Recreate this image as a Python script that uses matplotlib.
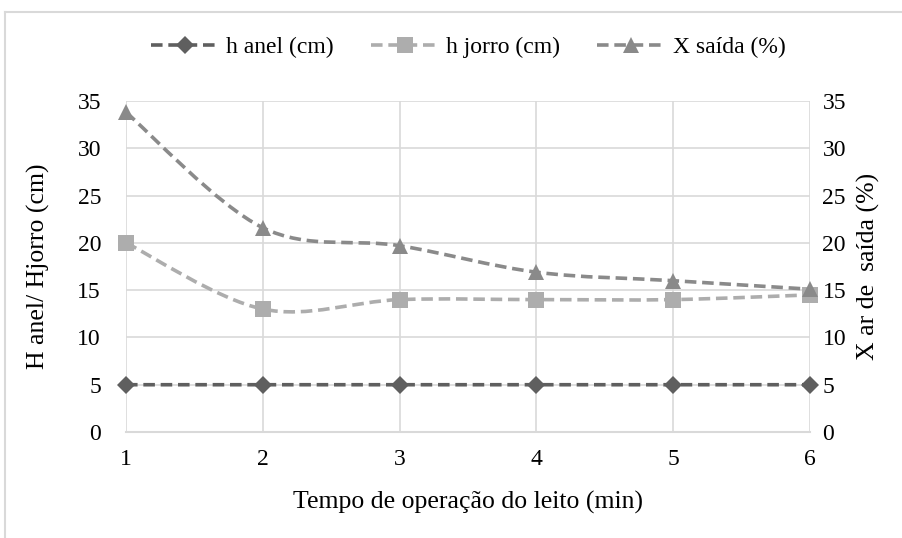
import matplotlib.pyplot as plt
from matplotlib.path import Path
from matplotlib.patches import PathPatch
from matplotlib.lines import Line2D
import numpy as np

plt.rcParams['font.family'] = ['Liberation Serif', 'DejaVu Serif']

tempo = [1, 2, 3, 4, 5, 6]
h_anel = [5, 5, 5, 5, 5, 5]
h_jorro = [20, 13, 14, 14, 14, 14.5]
x_saida = [33.8, 21.6, 19.7, 16.9, 16.0, 15.1]

labels = ['h anel (cm)', 'h jorro (cm)', 'X saída (%)']
colors = ['#5f5f5f', '#adadad', '#8a8a8a']
markers = ['D', 's', '^']
msizes = [9, 11, 12]


def smooth_path(x, y):
    # cubic bezier through the points, control points from neighbours
    pts = np.column_stack([np.asarray(x, float), np.asarray(y, float)])
    verts = [pts[0]]
    codes = [Path.MOVETO]
    n = len(pts)
    for i in range(n - 1):
        p0 = pts[i - 1] if i > 0 else pts[i]
        p1 = pts[i]
        p2 = pts[i + 1]
        p3 = pts[i + 2] if i + 2 < n else pts[i + 1]
        verts += [p1 + (p2 - p0) / 6.0, p2 - (p3 - p1) / 6.0, p2]
        codes += [Path.CURVE4] * 3
    return Path(verts, codes)


fig = plt.figure(figsize=(9.02, 5.38), dpi=100)
ax = fig.add_axes([0.1397, 0.197, 0.7583, 0.6153])

for yv, c, m, ms in zip([h_anel, h_jorro, x_saida], colors, markers, msizes):
    ax.add_patch(PathPatch(smooth_path(tempo, yv), facecolor='none', edgecolor=c,
                           lw=2.6, linestyle=(0, (3.2, 1.6)), zorder=3))
    ax.plot(tempo, yv, linestyle='none', marker=m, color=c, markersize=ms,
            markeredgewidth=0, zorder=4, clip_on=False)

ax.set_xlim(1, 6)
ax.set_ylim(0, 35)
ax.set_xticks(tempo)
ax.set_yticks(range(0, 36, 5))
ax.grid(True, color='#d9d9d9', lw=1.2)
ax.set_axisbelow(True)
for s in ['top', 'right', 'left']:
    ax.spines[s].set_visible(False)
ax.spines['bottom'].set_color('#d9d9d9')
ax.spines['bottom'].set_linewidth(1.5)
ax.tick_params(length=0, labelsize=17)
ax.tick_params(axis='y', pad=18)
ax.tick_params(axis='x', pad=12)

ax2 = ax.twinx()
ax2.set_ylim(0, 35)
ax2.set_yticks(range(0, 36, 5))
for s in ax2.spines.values():
    s.set_visible(False)
ax2.tick_params(length=0, labelsize=17, pad=9)

ax.set_xlabel('Tempo de operação do leito (min)', fontsize=18.5)
ax.xaxis.set_label_coords(0.5, -0.178)
ax.set_ylabel('H anel/ Hjorro (cm)', fontsize=18.5, va='center')
ax.yaxis.set_label_coords(-0.1287, 0.5)
ax2.set_ylabel('X ar de  saída (%)', fontsize=18.5, va='center')
ax2.yaxis.set_label_coords(1.0848, 0.5)

handles = [Line2D([], [], color=c, lw=2.6, linestyle=(0, (3.2, 1.6)), marker=m,
                  markersize=ms, markeredgewidth=0)
           for c, m, ms in zip(colors, markers, msizes)]
fig.legend(handles, labels, loc='center', bbox_to_anchor=(0.519, 0.912), ncol=3,
           frameon=False, fontsize=17, handlelength=2.85, columnspacing=1.57,
           handletextpad=0.34)

# outer chart frame
top = 1 - 12 / 538
left = 5 / 902
fig.add_artist(Line2D([left, left], [0, top], color='#d9d9d9', lw=1.5,
                      transform=fig.transFigure))
fig.add_artist(Line2D([left, 1], [top, top], color='#d9d9d9', lw=1.5,
                      transform=fig.transFigure))

fig.savefig('out.png', dpi=100)
